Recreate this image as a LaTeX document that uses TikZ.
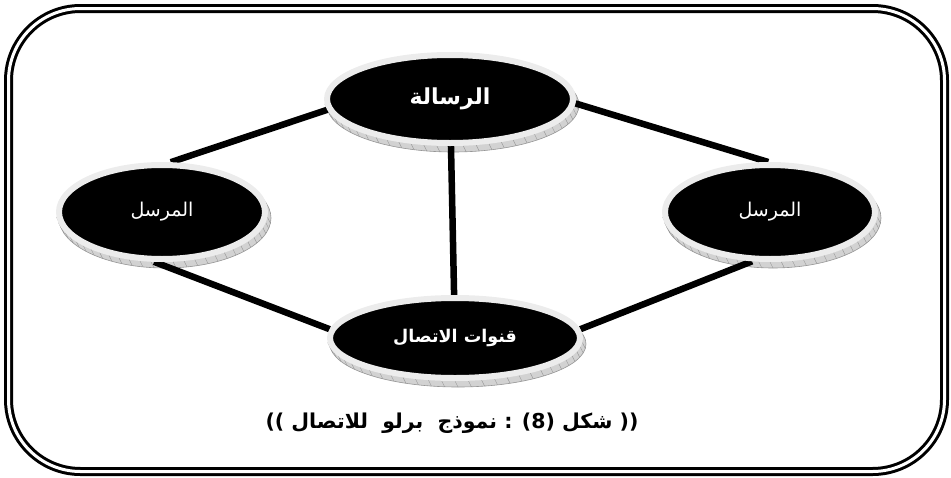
\documentclass[tikz,border=0pt]{standalone}
\usepackage{fontspec}
\newfontfamily\arabicfont[Script=Arabic]{DejaVu Sans}
\TeXXeTstate=1
\usetikzlibrary{shapes.geometric}
\pgfdeclarelayer{base}
\pgfdeclarelayer{links}
\pgfsetlayers{base,links,main}
\definecolor{rimgray}{RGB}{236,236,236}
\definecolor{basefill}{RGB}{210,210,210}
\definecolor{baseedge}{RGB}{150,150,150}
\newcommand\mydiscbase[4]{%
  \begin{pgfonlayer}{base}
    \fill[basefill] (#1+3,#2+6) ellipse [x radius=#3pt, y radius=#4pt];
    \draw[baseedge, line width=0.6pt] (#1+3,#2+6) ellipse [x radius=#3pt, y radius=#4pt];
    \foreach \t in {6,12,...,174}
      \draw[baseedge, line width=0.4pt] ({#1+#3*cos(\t)},{#2+#4*sin(\t)}) -- ++(3,6);
  \end{pgfonlayer}}
\begin{document}
\begin{tikzpicture}[x=1pt,y=-1pt,
  disc/.style={ellipse, fill=black, draw=rimgray, line width=6pt, inner sep=0pt, text=white},
  link/.style={line width=6.5pt, draw=black},
  frame/.style={draw=black, double=white, line width=3pt, double distance=3pt, rounded corners=72pt},
  discfont/.style={font=\arabicfont\fontsize{19}{22}\selectfont},
  boldfont/.style={font=\arabicfont\bfseries\fontsize{#1}{24}\selectfont}]
\useasboundingbox (0,0) rectangle (951,477);
\draw[frame] (8.5,8.5) rectangle (944.5,471.5);

\node[disc, minimum width=246pt, minimum height=88pt, boldfont=22] (msg) at (450,99) {\raisebox{3pt}{\beginR الرسالة\endR}};
\node[disc, minimum width=206pt, minimum height=94pt, discfont] (sndL) at (162,212) {\beginR المرسل\endR};
\node[disc, minimum width=210pt, minimum height=94pt, discfont] (sndR) at (770,212) {\beginR المرسل\endR};
\node[disc, minimum width=250pt, minimum height=80pt, boldfont=17.5] (chan) at (455,338) {\raisebox{2pt}{\beginR قنوات الاتصال\endR}};

\mydiscbase{450}{99}{126}{47}
\mydiscbase{162}{212}{106}{50}
\mydiscbase{770}{212}{108}{50}
\mydiscbase{455}{338}{128}{43}

\begin{pgfonlayer}{links}
\draw[link] (sndL.80) -- (msg.185);
\draw[link] (msg.358) -- (sndR.92);
\draw[link] (msg) -- (chan);
\draw[link] (sndL.261) -- (chan.176);
\draw[link] (sndR.250) -- (chan.4);
\end{pgfonlayer}

\node[boldfont=20.5] (cap) at (452,423) {)) \beginR نموذج\ \ برلو\ \ للاتصال\endR{} : (8) \beginR شكل\endR{} ((};
\end{tikzpicture}
\end{document}
